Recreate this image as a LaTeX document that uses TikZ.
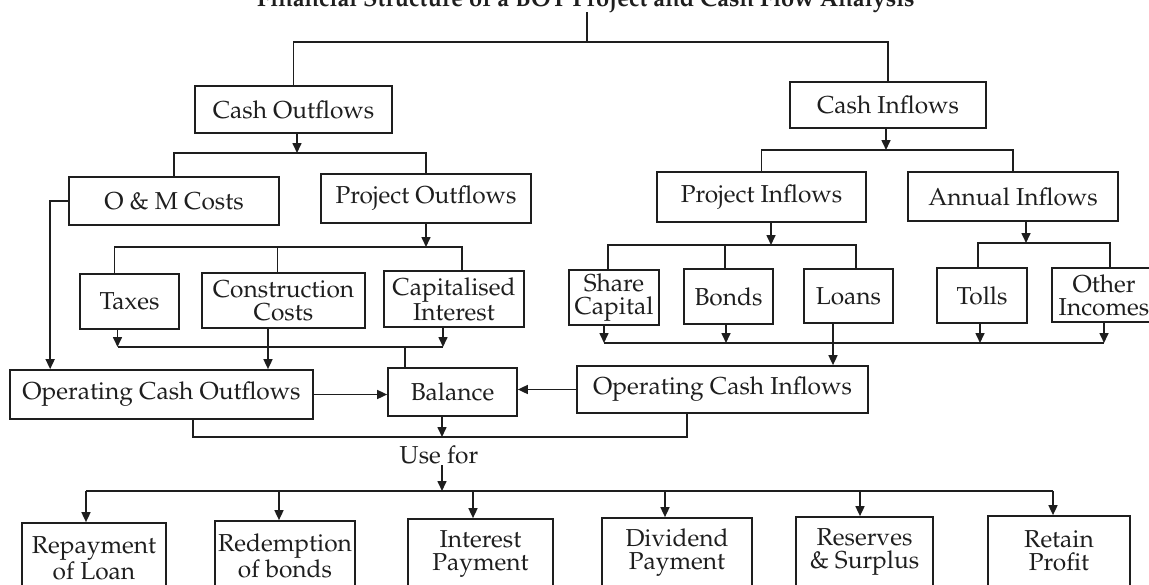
\documentclass[tikz,border=0pt]{standalone}
\usepackage[T1]{fontenc}
\renewcommand{\rmdefault}{ppl}
\usepackage{tikz}
\usetikzlibrary{arrows.meta, positioning, calc}
\definecolor{cInk}{HTML}{1E1E1E}
\tikzstyle{blk}   = [rectangle, draw=cInk, line width=1.7pt, inner sep=0pt, align=center, text=cInk, font=\fontsize{24.5}{23}\selectfont]
\tikzstyle{conn}  = [draw=cInk, line width=1.6pt]
\tikzstyle{arrow} = [conn, -{Triangle[length=10pt,width=9pt]}]

\begin{document}
\begin{tikzpicture}[x=1pt, y=-1pt]
\useasboundingbox (0,0) rectangle (1149,584);
\node (title) [anchor=base, inner sep=0pt, text=cInk, font=\fontsize{23.7}{23.7}\selectfont\bfseries] at (586,6) {Financial Structure of a BOT Project and Cash Flow Analysis};
\node (cout) [blk, minimum width=197pt, minimum height=47pt] at (293.5,109.5) {Cash Outflows};
\node (cin) [blk, minimum width=196pt, minimum height=46pt] at (888,105) {Cash Inflows};
\node (om) [blk, minimum width=210pt, minimum height=48pt] at (174,201) {O \& M Costs};
\node (pout) [blk, minimum width=210pt, minimum height=49pt] at (426,198.5) {Project Outflows};
\node (pin) [blk, minimum width=209pt, minimum height=50pt] at (761.5,197) {Project Inflows};
\node (ain) [blk, minimum width=210pt, minimum height=49pt] at (1013,196.5) {Annual Inflows};
\node (taxes) [blk, minimum width=99pt, minimum height=55pt] at (129.5,301.5) {Taxes};
\node (cons) [blk, minimum width=163pt, minimum height=55pt] at (283.5,300.5) {Construction\\Costs};
\node (capi) [blk, minimum width=140pt, minimum height=56pt] at (454,299) {Capitalised\\Interest};
\node (share) [blk, minimum width=90pt, minimum height=55pt] at (614,297.5) {Share\\Capital};
\node (bonds) [blk, minimum width=89pt, minimum height=55pt] at (728.5,296.5) {Bonds};
\node (loans) [blk, minimum width=89pt, minimum height=54pt] at (848.5,296) {Loans};
\node (tolls) [blk, minimum width=90pt, minimum height=55pt] at (982,295.5) {Tolls};
\node (other) [blk, minimum width=104pt, minimum height=54pt] at (1104,295) {Other\\Incomes};
\node (oco) [blk, minimum width=303pt, minimum height=49pt] at (161.5,394.5) {Operating Cash Outflows};
\node (bal) [blk, minimum width=129pt, minimum height=48pt] at (452.5,392) {Balance};
\node (oci) [blk, minimum width=291pt, minimum height=47pt] at (722.5,389.5) {Operating Cash Inflows};
\node (use) [text=cInk, inner sep=1pt, font=\fontsize{24.5}{23}\selectfont] at (439,455) {Use for};
\node (rep) [blk, minimum width=144pt, minimum height=70pt] at (94,558) {Repayment\\of Loan};
\node (red) [blk, minimum width=140pt, minimum height=70pt] at (285,556) {Redemption\\of bonds};
\node (int) [blk, minimum width=145pt, minimum height=70pt] at (480.5,554) {Interest\\Payment};
\node (div) [blk, minimum width=150pt, minimum height=70pt] at (677,553) {Dividend\\Payment};
\node (res) [blk, minimum width=137pt, minimum height=70pt] at (864.5,552) {Reserves\\\& Surplus};
\node (ret) [blk, minimum width=142pt, minimum height=70pt] at (1059,551) {Retain\\Profit};

\coordinate (t1) at (587,42);
\coordinate (b1) at (297,153);
\coordinate (b2) at (426,247);
\coordinate (b3) at (405,347);
\coordinate (b4) at (886,150);
\coordinate (b5) at (771,245);
\coordinate (b6) at (1026,243);
\coordinate (b7) at (833,343);
\coordinate (b8) at (442,437);
\coordinate (b9) at (442,491);

\draw [conn] (title.south -| t1) -- (t1);
\draw [conn] (cout.north) |- (t1) -| (cin.north);

\draw [arrow] (cout.south -| b1) -- (b1);
\draw [conn] (om.north) |- (b1) -| (pout.north);
\draw [arrow] (om.west) -| ([xshift=41pt]oco.north west);

\draw [arrow] (pout.south) -- (b2);
\draw [conn] ([xshift=-15pt]taxes.north) |- (b2) -| ([xshift=8pt]capi.north);
\draw [conn] ([xshift=-6pt]cons.north) -- ([xshift=-6pt]cons.north |- b2);

\draw [arrow] ([xshift=-12pt]taxes.south) -- ([xshift=-12pt]taxes.south |- b3);
\draw [arrow] ([xshift=-11pt]capi.south) -- ([xshift=-11pt]capi.south |- b3);
\draw [conn] ([xshift=-12pt]taxes.south |- b3) -- ([xshift=-11pt]capi.south |- b3);
\draw [conn] (b3) -- (b3 |- bal.north);
\draw [arrow] ([xshift=-15.5pt]cons.south) -- ([xshift=-15.5pt]cons.south |- oco.north);

\draw [arrow] (oco.east) -- (oco.east -| bal.west);
\draw [arrow] (oci.west) -- (oci.west -| bal.east);

\draw [arrow] (cin.south -| b4) -- (b4);
\draw [conn] (pin.north) |- (b4) -| (ain.north);

\draw [arrow] (pin.south -| b5) -- (b5);
\draw [conn] ([xshift=-6pt]share.north) |- (b5) -| ([xshift=7.5pt]loans.north);
\draw [conn] ([xshift=-3.5pt]bonds.north) -- ([xshift=-3.5pt]bonds.north |- b5);

\draw [arrow] (ain.south -| b6) -- (b6);
\draw [conn] ([xshift=-4pt]tolls.north) |- (b6) -| ([xshift=6pt]other.north);

\draw [arrow] ([xshift=-10pt]share.south) -- ([xshift=-10pt]share.south |- b7);
\draw [arrow] ([xshift=-2.5pt]bonds.south) -- ([xshift=-2.5pt]bonds.south |- b7);
\draw [arrow] ([xshift=-2pt]tolls.south) -- ([xshift=-2pt]tolls.south |- b7);
\draw [arrow] (other.south) -- (other.south |- b7);
\draw [conn] ([xshift=-10pt]share.south |- b7) -- (other.south |- b7);
\draw [arrow] (loans.south -| b7) -- (b7 |- oci.north);

\draw [arrow] (bal.south -| b8) -- (b8);
\draw [conn] ([xshift=31.5pt]oco.south) |- (b8) -| ([xshift=-35.5pt]oci.south);

\draw [arrow] (use.south -| b9) -- (b9);
\draw [conn] ([xshift=-8pt]rep.north |- b9) -- ([xshift=-6pt]ret.north |- b9);
\draw [arrow] ([xshift=-8pt]rep.north |- b9) -- ([xshift=-8pt]rep.north);
\draw [arrow] ([xshift=-6pt]red.north |- b9) -- ([xshift=-6pt]red.north);
\draw [arrow] ([xshift=-7.5pt]int.north |- b9) -- ([xshift=-7.5pt]int.north);
\draw [arrow] ([xshift=-12pt]div.north |- b9) -- ([xshift=-12pt]div.north);
\draw [arrow] ([xshift=-4.5pt]res.north |- b9) -- ([xshift=-4.5pt]res.north);
\draw [arrow] ([xshift=-6pt]ret.north |- b9) -- ([xshift=-6pt]ret.north);
\end{tikzpicture}
\end{document}
